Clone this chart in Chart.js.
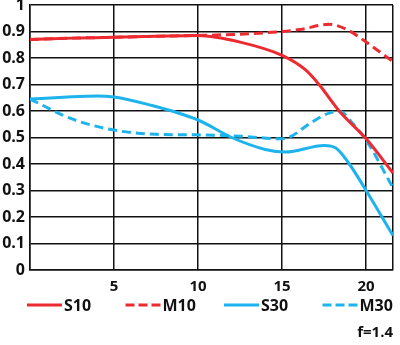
<!DOCTYPE html>
<html>
<head>
<meta charset="utf-8">
<script src="https://cdn.jsdelivr.net/npm/chart.js@4"></script>
<style>
  html, body { margin: 0; padding: 0; background: #fff; }
  #wrap { width: 400px; height: 345px; }
</style>
</head>
<body>
<div id="wrap"><canvas id="mtf"></canvas></div>
<script>
// MTF values (x = image height in mm)
const s10X = [0, 2.5, 5, 7.5, 10, 12.5, 15, 16.4, 17.2, 18.4, 20, 21.6];
const s10Y = [0.87, 0.875, 0.878, 0.882, 0.885, 0.86, 0.81, 0.755, 0.70, 0.60, 0.495, 0.366];

const m10X = [0, 2.5, 5, 7.5, 10, 12.5, 15, 16.1, 17.8, 18.9, 20, 21.6];
const m10Y = [0.87, 0.875, 0.878, 0.882, 0.885, 0.89, 0.90, 0.908, 0.927, 0.906, 0.86, 0.786];

const s30X = [0, 2, 4, 5, 7, 10, 12, 14, 15.2, 17.5, 18.2, 19, 20, 21.6];
const s30Y = [0.645, 0.652, 0.657, 0.653, 0.625, 0.566, 0.50, 0.455, 0.445, 0.47, 0.46, 0.40, 0.30, 0.13];

const m30X = [0, 2.5, 5, 7.5, 10, 12.5, 15, 15.5, 16.7, 17.9, 18.5, 19.1, 20, 21.6];
const m30Y = [0.645, 0.57, 0.528, 0.512, 0.51, 0.505, 0.495, 0.503, 0.555, 0.594, 0.597, 0.56, 0.49, 0.31];

const xTicks = [0, 5, 10, 15, 20, 21.6];
const xLabels = ['', '5', '10', '15', '20', ''];
const subtitle = 'f=1.4';

const RED = '#ec2a30';
const BLUE = '#1db3ec';
const FONT = "'Open Sans', sans-serif";
const INK = '#111';

function pts(xs, ys) {
  return xs.map((x, i) => ({ x: x, y: ys[i] }));
}

function series(label, xs, ys, color, dash) {
  return {
    label: label,
    data: pts(xs, ys),
    borderColor: color,
    backgroundColor: color,
    borderWidth: 3,
    borderDash: dash,
    pointRadius: 0,
    tension: 0.4,
    cubicInterpolationMode: 'monotone',
    fill: false
  };
}

// legend row under the axis: short line sample + label for each dataset
const lineLegend = {
  id: 'lineLegend',
  afterDraw(chart) {
    const ctx = chart.ctx;
    const y = 305;
    ctx.save();
    ctx.font = `bold 16px ${FONT}`;
    ctx.textBaseline = 'middle';
    ctx.textAlign = 'left';
    chart.data.datasets.forEach((ds, i) => {
      const x = 27 + i * 98.5;
      ctx.strokeStyle = ds.borderColor;
      ctx.lineWidth = ds.borderWidth;
      ctx.setLineDash(ds.borderDash.length ? [9, 4] : []);
      ctx.beginPath();
      ctx.moveTo(x, y);
      ctx.lineTo(x + 35, y);
      ctx.stroke();
      ctx.fillStyle = INK;
      ctx.fillText(ds.label, x + 37, y + 1);
    });
    ctx.restore();
  }
};

new Chart(document.getElementById('mtf'), {
  type: 'line',
  data: {
    datasets: [
      series('S10', s10X, s10Y, RED, []),
      series('M10', m10X, m10Y, RED, [9, 5]),
      series('S30', s30X, s30Y, BLUE, []),
      series('M30', m30X, m30Y, BLUE, [9, 5])
    ]
  },
  plugins: [lineLegend],
  options: {
    responsive: true,
    maintainAspectRatio: false,
    animation: false,
    layout: { padding: { left: 0, right: 7, top: 5, bottom: 0 } },
    plugins: {
      tooltip: { enabled: false },
      legend: { display: false },
      subtitle: {
        display: true,
        text: subtitle,
        position: 'bottom',
        align: 'end',
        color: INK,
        font: { family: FONT, size: 15, weight: 'bold' },
        padding: { top: 0, bottom: 3 }
      }
    },
    scales: {
      x: {
        type: 'linear',
        min: 0,
        max: 21.6,
        afterBuildTicks: s => { s.ticks = xTicks.map(v => ({ value: v })); },
        afterFit: s => { s.height = 54; s.paddingLeft = 0; s.paddingRight = 0; },
        grid: { color: INK, lineWidth: 1.5, drawTicks: false },
        border: { color: INK, width: 1.5 },
        ticks: {
          color: INK,
          padding: 8,
          maxRotation: 0,
          autoSkip: false,
          font: { family: FONT, size: 15, weight: 'bold' },
          callback: (v, i) => xLabels[i]
        }
      },
      y: {
        min: 0,
        max: 1,
        afterFit: s => { s.width = 30; s.paddingTop = 0; s.paddingBottom = 0; },
        grid: { color: INK, lineWidth: 1.5, drawTicks: false },
        border: { color: INK, width: 1.5 },
        ticks: {
          stepSize: 0.1,
          color: INK,
          padding: 5,
          font: { family: FONT, size: 16, weight: 'bold' },
          callback: v => Math.round(v * 10) / 10
        }
      }
    }
  }
});
</script>
</body>
</html>
